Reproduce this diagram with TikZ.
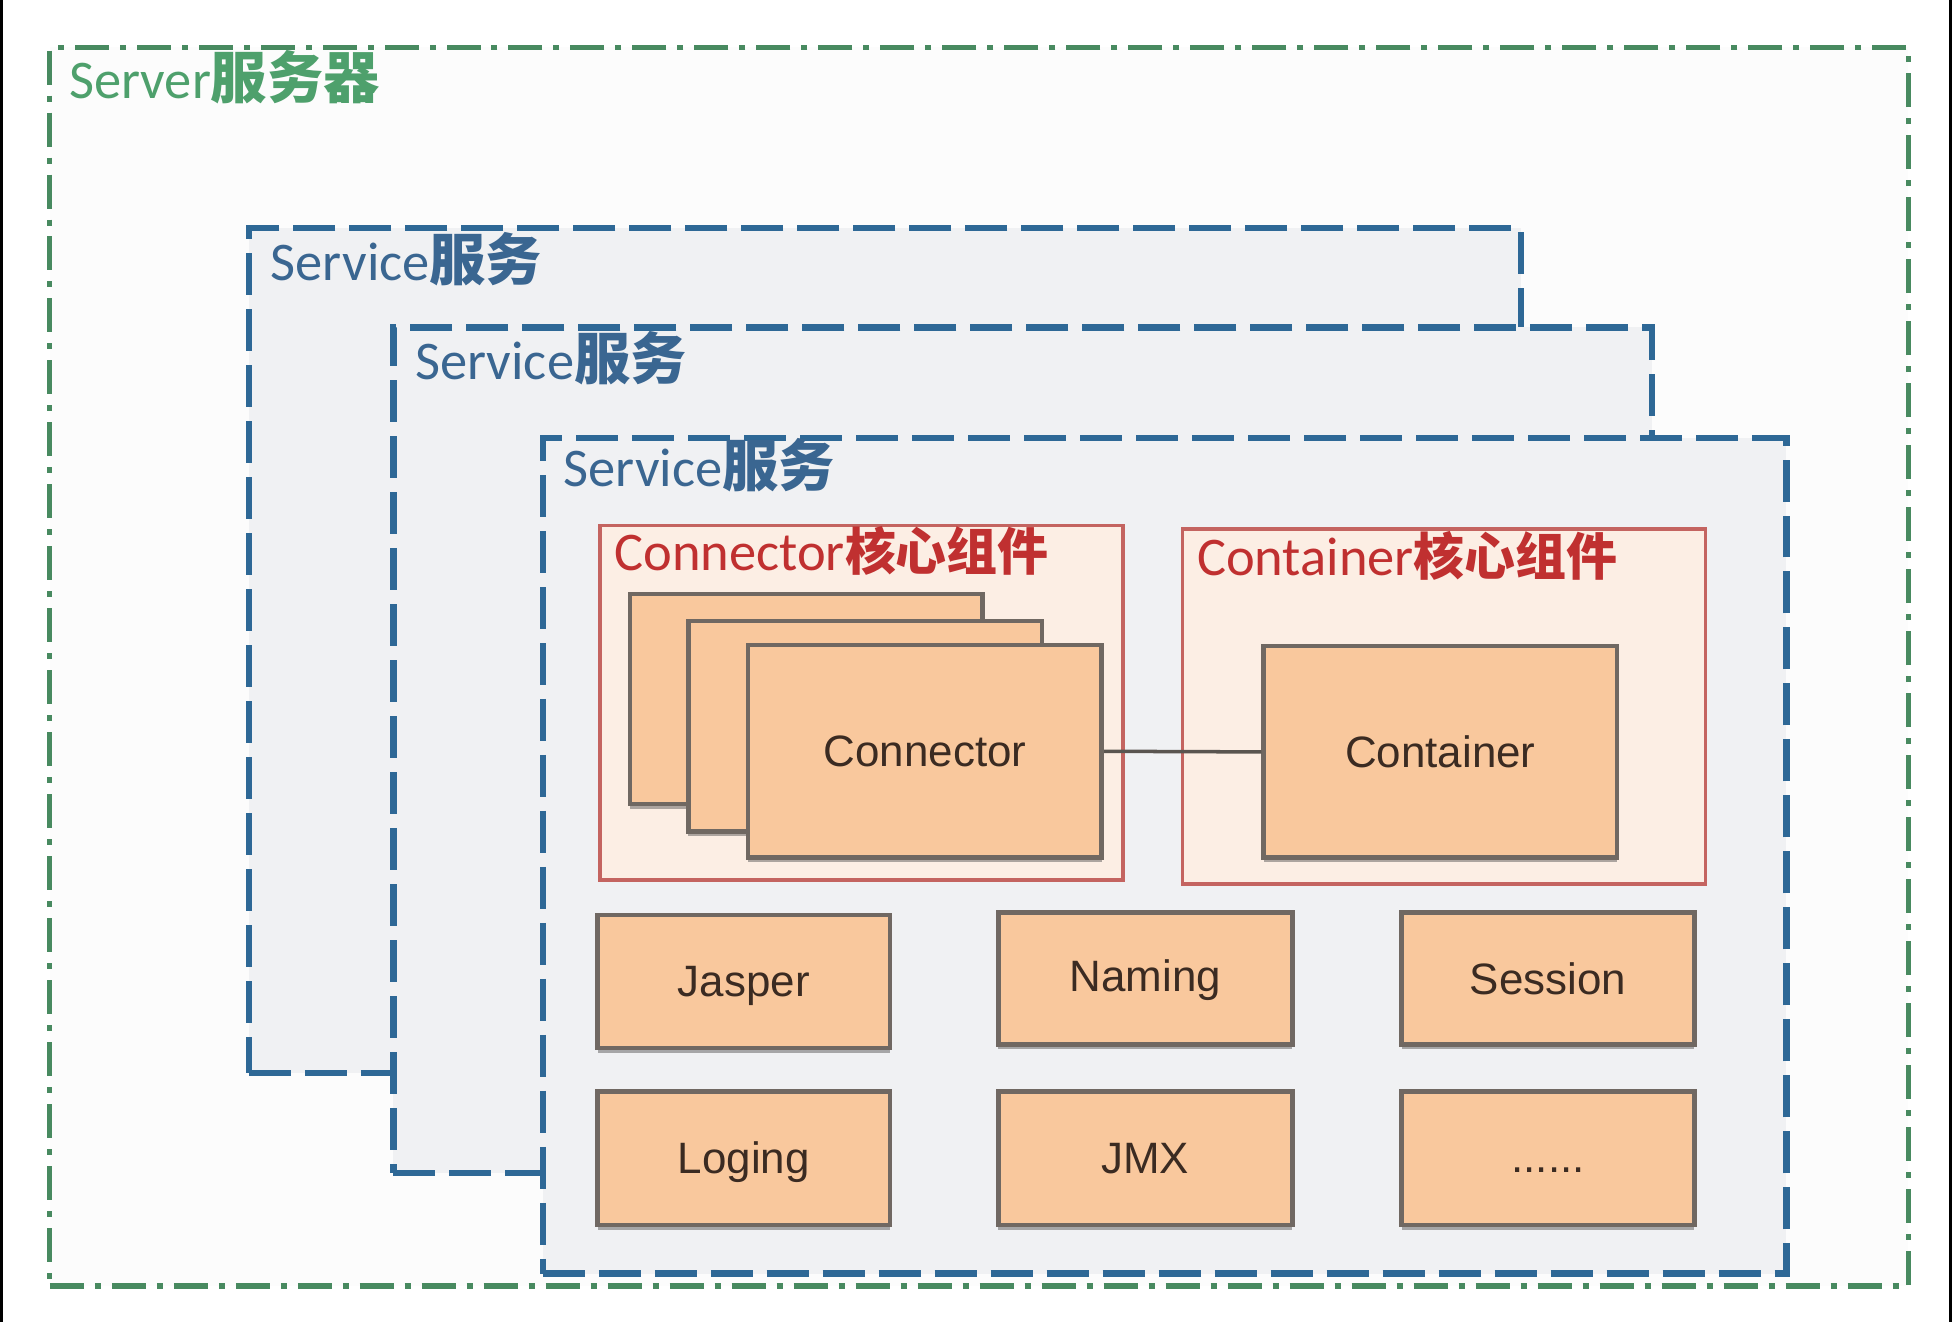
\documentclass[tikz,border=0pt]{standalone}
\usepackage{fontspec}
\setmainfont{Carlito}
\newfontfamily\cjk{Noto Sans CJK SC}
\newfontfamily\arialf{Liberation Sans}
\usetikzlibrary{fit,shadows}
\definecolor{bgc}{RGB}{252,252,252}
\definecolor{grline}{RGB}{72,138,96}
\definecolor{grtext}{RGB}{78,160,108}
\definecolor{blline}{RGB}{46,104,150}
\definecolor{bltext}{RGB}{58,102,145}
\definecolor{rdline}{RGB}{196,100,96}
\definecolor{rdtext}{RGB}{192,48,48}
\definecolor{svfill}{RGB}{240,241,243}
\definecolor{grpfill}{RGB}{252,238,228}
\definecolor{orfill}{RGB}{249,200,157}
\definecolor{orline}{RGB}{112,104,98}
\definecolor{txtc}{RGB}{59,43,34}
\tikzset{
  serverbox/.style={draw=grline, line width=1.5pt, fill=bgc, inner sep=0pt,
    dash pattern=on 0.34cm off 0.11cm on 0.06cm off 0.11cm},
  servicebox/.style={draw=blline, line width=1.8pt, fill=svfill, inner sep=0pt,
    dash pattern=on 0.42cm off 0.14cm},
  groupbox/.style={draw=rdline, line width=1pt, fill=grpfill, inner sep=0pt},
  compbox/.style={draw=orline, line width=1.3pt, fill=orfill, inner sep=0pt,
    drop shadow={shadow xshift=0pt, shadow yshift=-1.3pt, opacity=0.45, fill=black!70}},
  comptext/.style={font=\arialf\fontsize{12.5}{15}\selectfont, text=txtc, inner sep=0pt},
  greenlabel/.style={anchor=base west, inner sep=0pt, text=grtext,
    font=\fontsize{15.5}{18}\selectfont},
  bluelabel/.style={anchor=base west, inner sep=0pt, text=bltext,
    font=\fontsize{15.5}{18}\selectfont},
  redlabel/.style={anchor=base west, inner sep=0pt, text=rdtext,
    font=\fontsize{15.5}{18}\selectfont},
  link/.style={draw={rgb,255:red,90;green,85;blue,80}, line width=1pt}
}
\begin{document}
\begin{tikzpicture}[x=0.01245cm, y=-0.01245cm]
\useasboundingbox (0,0) rectangle (1568,1062);
\fill[white] (0,0) rectangle (1568,1062);
\fill[black] (0,0) rectangle (2.5,1062);
\fill[black] (1565.5,0) rectangle (1568,1062);

% Server
\node[serverbox, fit={(40,38) (1533,1033)}] (server) {};
\node[greenlabel] (serverlbl) at (55,79) {Server{\cjk\bfseries\fontsize{16}{18}\selectfont 服务器}};

% Service boxes
\node[servicebox, fit={(200,183) (1222,862)}] (svc1) {};
\node[bluelabel] (svc1lbl) at (217,225) {Service{\cjk\bfseries\fontsize{16}{18}\selectfont 服务}};
\node[servicebox, fit={(316,263) (1327,942)}] (svc2) {};
\node[bluelabel] (svc2lbl) at (333,305) {Service{\cjk\bfseries\fontsize{16}{18}\selectfont 服务}};
\node[servicebox, fit={(436,352) (1435,1023)}] (svc3) {};
\node[bluelabel] (svc3lbl) at (452,391) {Service{\cjk\bfseries\fontsize{16}{18}\selectfont 服务}};

% Core groups
\node[groupbox, fit={(482,422) (902,707)}] (conngrp) {};
\node[redlabel] (conngrplbl) at (493,458) {Connector{\cjk\bfseries\fontsize{14.5}{18}\selectfont 核心组件}};
\node[groupbox, fit={(950,425) (1370,710)}] (contgrp) {};
\node[redlabel] (contgrplbl) at (961,462) {Container{\cjk\bfseries\fontsize{14.5}{18}\selectfont 核心组件}};

% Connectors stack
\node[compbox, fit={(506,477) (789,646)}] (conn3) {};
\node[compbox, fit={(553,499) (837,668)}] (conn2) {};
\node[compbox, fit={(601,518) (885,689)}] (conn1) {};
\node[comptext] (conn1txt) at (conn1.center) {Connector};
\node[compbox, fit={(1015,519) (1299,689)}] (cont) {};
\node[comptext] (conttxt) at (cont.center) {Container};
\draw[link] (conn1.east) -- (cont.west);

% Other components
\node[compbox, fit={(480,735) (715,842)}] (jasper) {};
\node[comptext] (jaspertxt) at ([yshift=-0.04cm]jasper.center) {Jasper};
\node[compbox, fit={(802,733) (1038,839)}] (naming) {};
\node[comptext] (namingtxt) at ([yshift=-0.02cm]naming.center) {Naming};
\node[compbox, fit={(1126,733) (1361,839)}] (session) {};
\node[comptext] (sessiontxt) at (session.center) {Session};
\node[compbox, fit={(480,877) (715,984)}] (loging) {};
\node[comptext] (logingtxt) at ([yshift=-0.04cm]loging.center) {Loging};
\node[compbox, fit={(802,877) (1038,984)}] (jmx) {};
\node[comptext] (jmxtxt) at (jmx.center) {JMX};
\node[compbox, fit={(1126,877) (1361,984)}] (more) {};
\node[comptext, anchor=base] (moretxt) at ([yshift=-0.14cm]more.center) {......};
\end{tikzpicture}
\end{document}
